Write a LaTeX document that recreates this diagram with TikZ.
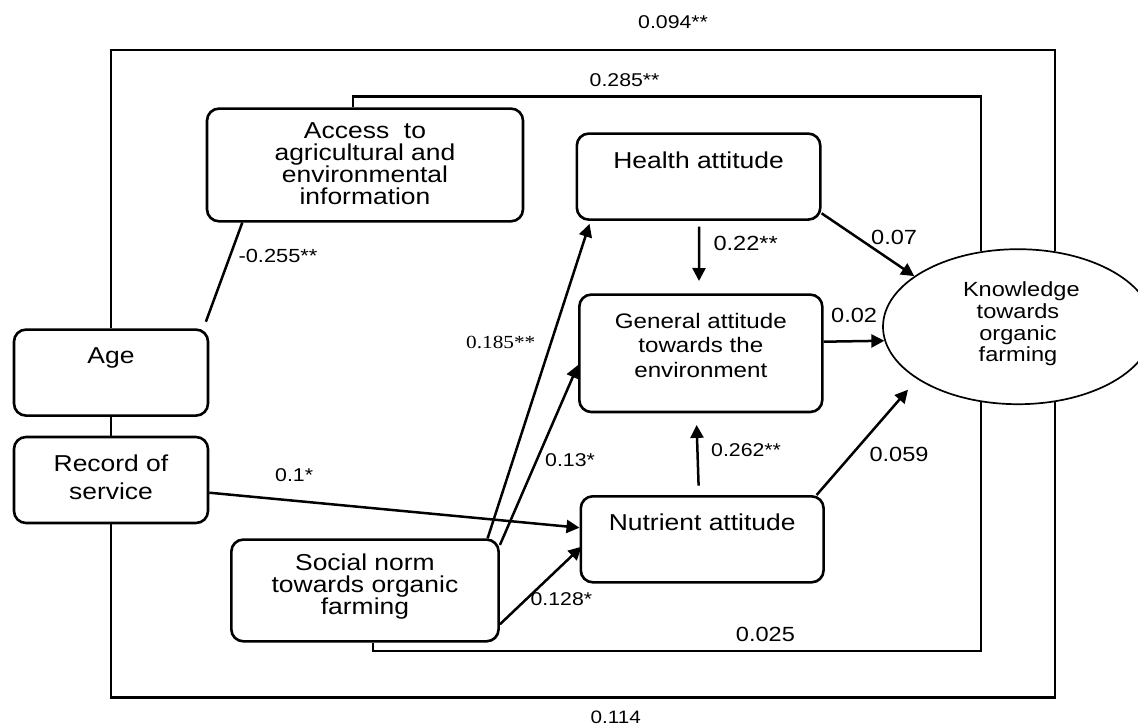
\documentclass[tikz,border=0pt]{standalone}
\usepackage{fontspec}
\setmainfont{Liberation Sans}[FakeStretch=1.15]
\newfontfamily\serifnum{Liberation Serif}[FakeStretch=1.15]
\usetikzlibrary{arrows.meta,calc,shapes.geometric}
\newcommand{\myfs}[2]{\fontsize{#1}{#2}\selectfont}
\tikzset{
  box/.style={draw, line width=2.6pt, rounded corners=12pt, inner sep=0pt, anchor=north west},
  lab/.style={anchor=base west, inner sep=0pt},
  conn/.style={line width=2.5pt},
  arr/.style={conn, -{Triangle[length=13pt,width=13pt]}}
}
\begin{document}
\begin{tikzpicture}[x=1pt,y=-1pt]
\useasboundingbox (0,0) rectangle (1138,725);
\clip (0,0) rectangle (1138,725);

% boxes
\node[box, text height=30pt, text depth=82.7pt] (Access) at (205.7,107.3)
  {\parbox[t]{316pt}{\centering\myfs{23}{22}Access\ \ to\\agricultural and\\environmental\\information}};
\node[box, text height=34.4pt, text depth=51.6pt] (Health) at (575.5,132.3)
  {\parbox[t]{243.5pt}{\centering\myfs{23}{24}Health attitude}};
\node[box, text height=33.4pt, text depth=84pt] (General) at (578,293.3)
  {\parbox[t]{243pt}{\centering\myfs{21}{24.7}General attitude\\towards the\\environment}};
\node[box, text height=34pt, text depth=52pt] (Nutrient) at (579.5,495)
  {\parbox[t]{242.8pt}{\centering\myfs{23}{24}Nutrient attitude}};
\node[box, text height=34pt, text depth=52pt] (Age) at (12.7,328.3)
  {\parbox[t]{194pt}{\centering\myfs{23}{24}Age}};
\node[box, text height=34.3pt, text depth=51.7pt] (Record) at (12.7,435.7)
  {\parbox[t]{194pt}{\centering\myfs{23}{28.3}Record of\\service}};
\node[box, text height=31pt, text depth=70.7pt] (Social) at (230,538.3)
  {\parbox[t]{267.3pt}{\centering\myfs{23}{21.7}Social norm\\towards organic\\farming}};
\node[draw, ellipse, line width=1.7pt, minimum width=270pt, minimum height=155pt,
      inner sep=0pt, text height=10pt, text depth=70pt] (Know) at (1018,326.7)
  {\parbox[t]{110pt}{\centering\myfs{20.5}{21.7}Knowledge\\towards\\organic\\farming}};

% long connectors
\draw[conn] (Age.north) -- (Age.north |- 0,50) -| (Know.64);
\draw[conn] ($(Access.north west)+(147.3,0)$) coordinate (a285)
  -- (a285 |- 0,96.7) -| (Know.116);
\draw[conn] (Record.south) -- (Record.south |- 0,697.7) -| (Know.-64);
\draw[conn] ($(Social.south)+(8,0)$) coordinate (s025)
  -- (s025 |- 0,651) -| (Know.-116);
\draw[conn] (Age.south) -- (Record.north);
\draw[conn] ($(Access.south west)+(36.6,0)$) -- ($(Age.north east)+(-3.4,-6.6)$);

% arrows
\draw[arr] ($(Social.north east)+(-12.3,0)$) -- ($(Health.south west)+(14,3)$);
\draw[arr] ($(Social.north east)+(0,6.7)$) -- ($(General.north west)+(0,71.7)$);
\draw[arr] ($(Record.north east)+(0,57)$) -- ($(Nutrient.north west)+(0,32.7)$);
\draw[arr] ($(Social.south east)+(0,-18.3)$) -- ($(Nutrient.north west)+(2,51.7)$);
\draw[arr] ($(Health.south)+(0.5,5.7)$) -- ($(General.north)+(-1.8,-12.3)$);
\draw[arr] ($(Health.south east)+(0,-7.6)$) -- (Know.154);
\draw[arr] ($(General.north east)+(0,48.4)$) -- (Know.186.5);
\draw[arr] ($(Nutrient.north)+(-3.6,-9.3)$) -- ($(General.south)+(-4.2,11.6)$);
\draw[arr] ($(Nutrient.north east)+(-8.3,0)$) -- ($(Know.center)+(-110,63)$);

% labels
\node[lab] (l094) at (638,28.3) {\myfs{18.5}{20}0.094**};
\node[lab] (l285) at (589.5,86.7) {\myfs{18.5}{20}0.285**};
\node[lab] (l255) at (238.3,262.3) {\myfs{19}{20}-0.255**};
\node[lab] (l185) at (466,348.3) {\serifnum\myfs{18.5}{20}0.185**};
\node[lab] (l1) at (275,481.7) {\myfs{18.5}{20}0.1*};
\node[lab] (l13) at (545,466.7) {\myfs{18.5}{20}0.13*};
\node[lab] (l262) at (711,456) {\myfs{18.5}{20}0.262**};
\node[lab] (l059) at (869.3,461.7) {\myfs{20.5}{22}0.059};
\node[lab] (l128) at (530.4,605) {\myfs{18.5}{20}0.128*};
\node[lab] (l025) at (735.7,641) {\myfs{20.5}{22}0.025};
\node[lab] (l114) at (590.4,723.3) {\myfs{18}{20}0.114};
\node[lab] (l07) at (871,244.3) {\myfs{20.5}{22}0.07};
\node[lab] (l22) at (713.3,250.7) {\myfs{20.5}{22}0.22**};
\node[lab] (l02) at (831,322.3) {\myfs{20.5}{22}0.02};
\end{tikzpicture}
\end{document}
